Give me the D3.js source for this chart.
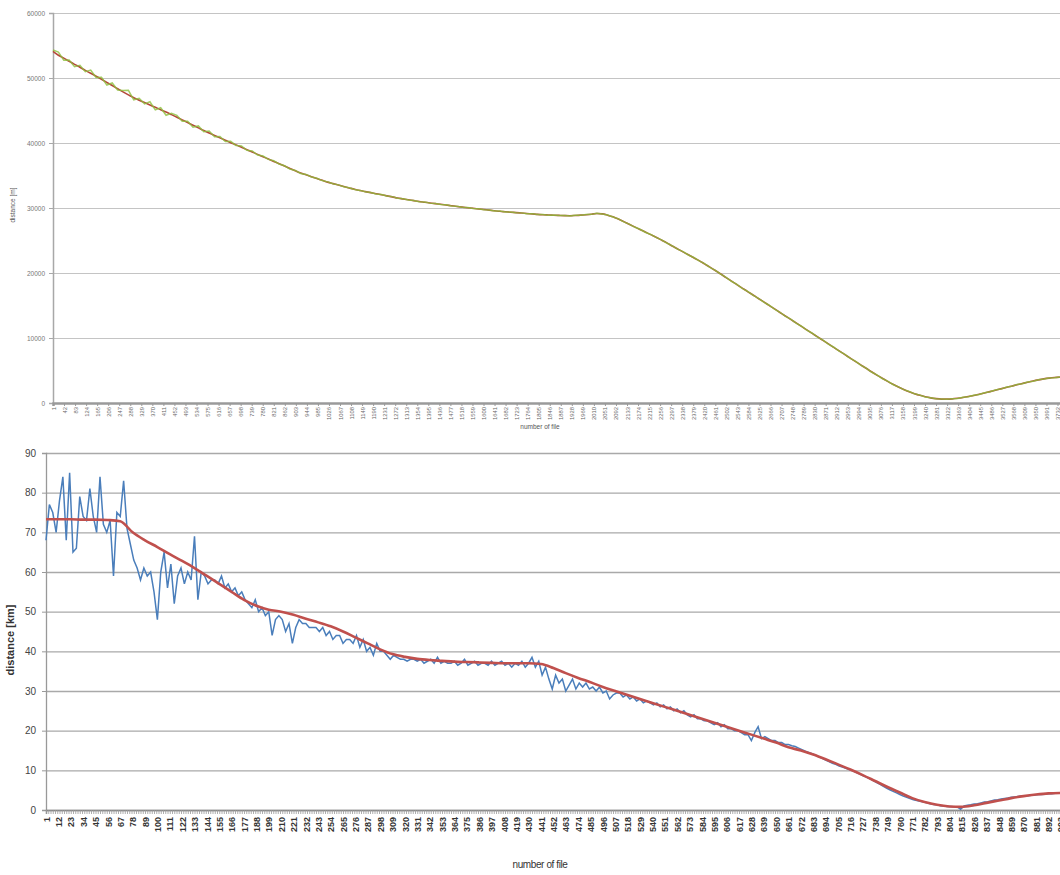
<!DOCTYPE html>
<html><head><meta charset="utf-8">
<script src="https://cdn.jsdelivr.net/npm/d3@7"></script>
<style>
body{margin:0;background:#fff;}
svg{display:block;font-family:"Liberation Sans",Arial,sans-serif;}
</style></head>
<body><svg id="c" width="1060" height="875"></svg>
<script>
// ---------- TOP CHART DATA (distance in m, one value every 20 files) ----------
const topFileStep = 20;
const topRed = [54100,53500,53050,52570,52100,51650,51180,50720,50280,49800,
49320,48840,48350,47870,47400,46950,46580,46220,45850,45490,
45120,44770,44370,43960,43550,43140,42730,42330,41920,41540,
41160,40790,40420,40050,39710,39340,38980,38620,38250,37890,
37530,37170,36810,36450,36090,35730,35380,35100,34820,34540,
34260,33980,33750,33530,33310,33090,32870,32680,32520,32360,
32200,32040,31870,31710,31540,31400,31260,31130,31000,30890,
30780,30670,30570,30460,30350,30240,30140,30050,29950,29860,
29770,29670,29580,29490,29420,29350,29290,29220,29150,29090,
29020,28970,28930,28890,28860,28830,28810,28850,28900,28970,
29050,29150,29100,28900,28650,28300,27900,27500,27100,26700,
26300,25900,25500,25070,24640,24150,23700,23250,22800,22350,
21900,21400,20900,20380,19850,19300,18760,18220,17680,17140,
16620,16080,15550,15010,14470,13930,13390,12860,12320,11780,
11240,10700,10170,9630,9090,8550,8010,7480,6940,6400,
5870,5340,4800,4290,3800,3330,2880,2460,2080,1740,
1440,1180,960,790,670,600,590,630,720,840,
990,1160,1350,1550,1750,1960,2170,2380,2590,2800,
3000,3200,3390,3560,3710,3830,3920,3980];
const topGreen = [54300,54000,52750,52770,51750,51950,50980,51220,50080,50100,
48920,49240,48150,48070,48100,46650,46880,46020,46350,45090,
45420,44270,44570,44260,43350,43340,42430,42630,41720,41840,
40960,40990,40220,40250,39610,39540,38880,38770,38150,37990,
37480,37270,36760,36500,35990,35780,35320,35170,34780,34580,
34220,34020,33720,33560,33280,33120,32840,32710,32490,32390,
32160,32080,31840,31750,31510,31430,31230,31160,30970,30920,
30750,30700,30540,30490,30320,30270,30110,30080,29920,29890,
29740,29700,29550,29520,29390,29380,29260,29250,29120,29120,
28990,29000,28900,28920,28830,28860,28780,28880,28870,29000,
29020,29180,29070,28930,28620,28330,27870,27530,27070,26730,
26270,25930,25470,25100,24610,24180,23670,23280,22770,22380,
21870,21430,20870,20410,19820,19330,18730,18250,17650,17170,
16590,16110,15520,15040,14440,13960,13360,12890,12290,11810,
11210,10730,10140,9660,9060,8580,7980,7510,6910,6430,
5840,5370,4770,4320,3770,3360,2850,2490,2050,1770,
1410,1210,930,820,640,630,560,660,690,870,
960,1190,1320,1580,1720,1990,2140,2410,2560,2830,
2970,3230,3360,3590,3680,3860,3890,4010];
const topYTicks = [0,10000,20000,30000,40000,50000,60000];
const topXTicks = d3.range(1, 3745, 41);

// ---------- BOTTOM CHART DATA (distance in km) ----------
const blueStep = 3;   // one value every 3 files
const blueKm = [68,77,75,70,78,84,68,85,65,66,
79,74,73,81,74,70,84,72,70,73,
59,75,74,83,71,67,63,61,58,61,
59,60,55,48,60,65,56,62,52,59,
61,57,60,58,69,53,60,59,57,58,
58,57,59,56,57,55,56,54,55,53,
52,51,53,50,51,49,50,44,48,49,
48,45,47,42,46,48,47,47,46,46,
46,45,46,44,45,43,44,44,42,43,
43,42,44,41,43,40,41,39,42,40,
40,39,38,39,38.5,38,38,37.5,38,38,
37.5,38,37,37.5,38,37,38.5,37,37.5,37,
37,37.5,36.5,37,38,36.5,37,37.5,36.5,37,
37,36.5,37.5,36.5,37,37.5,36.5,37,36,37,
36.5,37.5,36,37,38.5,36,37.5,34,36,33,
30.5,34,32,33,30,31.5,33,30.5,32,31,
32,30.5,31,30,31,29.5,30,28,29,29.5,
29.5,28.5,29,28,28.5,27.5,28,27,27.5,27,
26.5,27,26,26.5,25.5,26,25,25.5,24.5,25,
24,23.5,24,23,23,22.5,22.5,22,21.5,22,
21,21.5,20.5,20.5,20,20,19.5,19,19,17.5,
19.5,21,18,18.5,18,17.5,17.5,17,17,16.5,
16.5,16.2,16,15.6,15.2,14.8,14.5,14.2,13.8,13.4,
13,12.6,12.2,11.8,11.5,11.1,10.8,10.5,10.2,9.9,
9.5,9.1,8.7,8.3,7.9,7.5,7.0,6.5,6.0,5.5,
5.1,4.7,4.3,3.9,3.5,3.2,2.9,2.6,2.4,2.2,
2.0,1.8,1.6,1.4,1.3,1.1,1.0,0.9,0.9,0.8,
0.8,0.2,1.0,1.2,1.3,1.5,1.6,1.8,2.0,2.1,
2.3,2.5,2.6,2.8,2.9,3.0,3.2,3.3,3.4,3.5,
3.6,3.6,3.7,3.8,3.9,3.9,4.0,4.1,4.1,4.2,4.3,4.3];
const redStep = 11;   // one value every 11 files
const redKm = [73.3,73.3,73.3,73.2,73.2,73.1,72.8,70.0,68.0,66.3,
64.5,62.8,61.0,59.0,57.0,55.0,53.0,51.5,50.5,50.0,
49.2,48.2,47.3,46.3,45.0,43.5,42.0,40.5,39.3,38.6,
38.1,37.8,37.6,37.4,37.3,37.2,37.1,37.0,37.0,37.0,
36.8,35.8,34.5,33.3,32.2,31.0,30.0,29.0,28.0,27.0,
26.0,25.0,24.0,23.0,22.0,21.0,20.0,19.0,18.0,17.0,
15.8,15.0,14.0,12.8,11.5,10.2,8.8,7.3,5.8,4.4,
3.0,2.0,1.3,0.9,0.8,1.2,1.8,2.4,3.0,3.5,
3.9,4.2,4.3];
const botYTicks = [0,10,20,30,40,50,60,70,80,90];
const botXTicks = d3.range(1, 906, 11);

// ---------- DRAW ----------
const svg = d3.select("#c");

// ===== TOP =====
(function(){
  const x = d3.scaleLinear().domain([1, 3745]).range([53, 1061]);
  const y = d3.scaleLinear().domain([0, 60000]).range([403, 13]);
  const g = svg.append("g");
  g.append("g").attr("transform","translate(53,0)")
    .call(d3.axisLeft(y).tickValues(topYTicks).tickSize(-1010).tickFormat(""))
    .call(s=>s.select(".domain").remove())
    .call(s=>s.selectAll("line").attr("stroke","#c4c4c4").attr("stroke-width",1.2));
  const ya = g.append("g").attr("transform","translate(53,0)")
    .call(d3.axisLeft(y).tickValues(topYTicks).tickSize(4).tickPadding(4).tickFormat(d3.format("d")));
  ya.select(".domain").attr("stroke","#a8a8a8").attr("stroke-width",1.5);
  ya.selectAll("line").attr("stroke","#a8a8a8");
  ya.selectAll("text").attr("font-size",6.5).attr("fill","#777");
  const xa = g.append("g").attr("transform","translate(0,403)")
    .call(d3.axisBottom(x).tickValues(topXTicks).tickSize(3).tickFormat(d3.format("d")));
  xa.select(".domain").attr("stroke","#9a9a9a").attr("stroke-width",2.5);
  xa.selectAll("line").attr("stroke","#999");
  xa.selectAll("text").attr("font-size",5.8).attr("fill","#666")
    .attr("transform","rotate(-90)").attr("text-anchor","end")
    .attr("x",-4).attr("y",0).attr("dy","0.35em");
  const fx = (d,i)=>x(1 + i*topFileStep);
  g.append("path").datum(topRed).attr("fill","none").attr("stroke","#b5473a").attr("stroke-width",1.6)
    .attr("d", d3.line().x(fx).y(d=>y(d)).curve(d3.curveMonotoneX));
  g.append("path").datum(topGreen).attr("fill","none").attr("stroke","#8cbf3c").attr("stroke-width",1.5).attr("stroke-opacity",0.8)
    .attr("d", d3.line().x(fx).y(d=>y(d)));
  g.append("text").attr("x",540).attr("y",429).attr("text-anchor","middle")
    .attr("font-size",6.5).attr("fill","#555").text("number of file");
  g.append("text").attr("transform","translate(15,205) rotate(-90)").attr("text-anchor","middle")
    .attr("font-size",6.5).attr("fill","#555").text("distance [m]");
})();

// ===== BOTTOM =====
(function(){
  const x = d3.scaleLinear().domain([1, 905]).range([46, 1063]);
  const y = d3.scaleLinear().domain([0, 90]).range([810, 453]);
  const g = svg.append("g");
  g.append("g").attr("transform","translate(46,0)")
    .call(d3.axisLeft(y).tickValues(botYTicks).tickSize(-1014).tickFormat(""))
    .call(s=>s.select(".domain").remove())
    .call(s=>s.selectAll("line").attr("stroke","#a9a9a9").attr("stroke-width",1.3));
  const ya = g.append("g").attr("transform","translate(46,0)")
    .call(d3.axisLeft(y).tickValues(botYTicks).tickSize(4).tickPadding(6));
  ya.select(".domain").attr("stroke","#999").attr("stroke-width",1.3);
  ya.selectAll("line").attr("stroke","#999");
  ya.selectAll("text").attr("font-size",10).attr("fill","#444");
  g.append("g").attr("transform","translate(0,810)")
    .call(d3.axisBottom(x).tickValues(d3.range(1, 906, 2)).tickSize(4).tickFormat(""))
    .call(s=>s.select(".domain").attr("stroke","#888").attr("stroke-width",1.5))
    .call(s=>s.selectAll("line").attr("stroke","#999").attr("stroke-width",0.8));
  const xa = g.append("g").attr("transform","translate(0,810)")
    .call(d3.axisBottom(x).tickValues(botXTicks).tickSize(0).tickFormat(d3.format("d")));
  xa.select(".domain").remove();
  xa.selectAll("text").attr("font-size",9).attr("font-weight","bold").attr("fill","#333")
    .attr("transform","rotate(-90)").attr("text-anchor","end")
    .attr("x",-7).attr("y",0).attr("dy","0.35em");
  g.append("path").datum(blueKm).attr("fill","none").attr("stroke","#4a7ebb").attr("stroke-width",1.5)
    .attr("d", d3.line().x((d,i)=>x(1 + i*blueStep)).y(d=>y(d)));
  g.append("path").datum(redKm).attr("fill","none").attr("stroke","#c0504d").attr("stroke-width",2.6)
    .attr("d", d3.line().x((d,i)=>x(1 + i*redStep)).y(d=>y(d)).curve(d3.curveMonotoneX));
  g.append("text").attr("x",540).attr("y",868).attr("text-anchor","middle")
    .attr("font-size",10).attr("fill","#333").attr("letter-spacing","-0.4").text("number of file");
  g.append("text").attr("transform","translate(14,640) rotate(-90)").attr("text-anchor","middle")
    .attr("font-size",11).attr("font-weight","bold").attr("fill","#333").text("distance [km]");
})();
</script></body></html>
